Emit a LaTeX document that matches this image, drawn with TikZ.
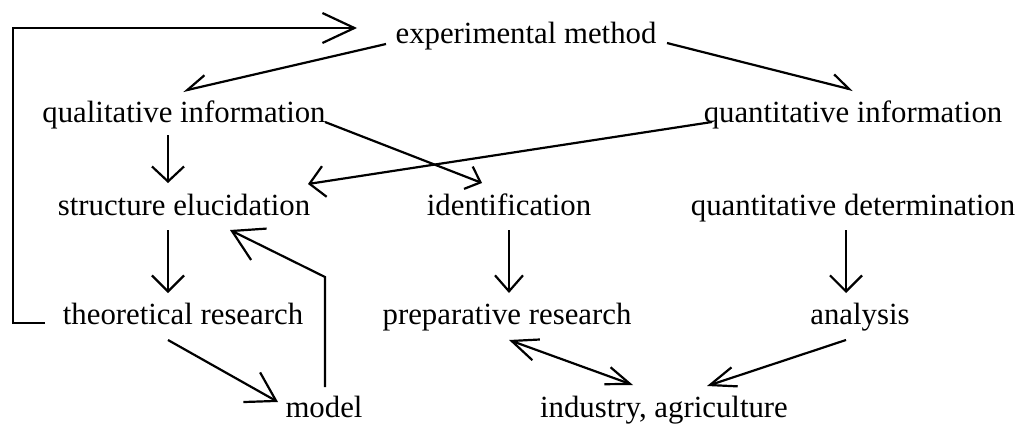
\documentclass[tikz,border=0pt]{standalone}
\usepackage{fontspec}
\setmainfont{Liberation Serif}
\usetikzlibrary{arrows.meta,calc}
\begin{document}
\begin{tikzpicture}[x=1pt,y=-1pt,
  lbl/.style={font=\fontsize{30.8pt}{36pt}\selectfont, inner sep=0pt, anchor=base},
  ln/.style={line width=2.2pt, line join=miter},
]
\useasboundingbox (0,0) rectangle (1020,423);
% nodes
\node[lbl] (exp)    at (526,43)  {experimental method};
\node[lbl] (qual)   at (184,122) {qualitative information};
\node[lbl] (quant)  at (853,122) {quantitative information};
\node[lbl] (struct) at (184,215) {structure elucidation};
\node[lbl] (ident)  at (509,215) {identification};
\node[lbl] (qdet)   at (853,215) {quantitative determination};
\node[lbl] (theo)   at (183,324) {theoretical research};
\node[lbl] (prep)   at (507,324) {preparative research};
\node[lbl] (anal)   at (860,324) {analysis};
\node[lbl] (model)  at (324,417) {model};
\node[lbl] (ind)    at (664,417) {industry, agriculture};
% connectors
\draw[ln,-{Straight Barb[length=32pt,width=30pt]}]
  ($(theo.base)+(-138,-1)$) -- ++(-32,0) |- ($(exp.base)+(-169,-15)$);
\draw[ln,-{Straight Barb[length=20pt,width=21pt,harpoon,swap]}]
  ($(exp.base)+(-140,1)$) -- ($(qual.base)+(-1,-31)$);
\draw[ln,-{Straight Barb[length=18pt,width=21pt,harpoon]}]
  ($(exp.base)+(141,0)$) -- ($(quant.base)+(0,-32)$);
\draw[ln,-{Straight Barb[length=13pt,width=24pt]}]
  ($(qual.base)+(141,0)$) -- ($(ident.base)+(-27,-32)$);
\draw[ln,-{Straight Barb[length=15pt,width=31pt]}]
  ($(quant.base)+(-141,0)$) -- ($(struct.base)+(124,-31)$);
\draw[ln,-{Straight Barb[length=15pt,width=32pt]}]
  ($(qual.base)+(-16,13)$) -- ($(struct.base)+(-16,-32)$);
\draw[ln,-{Straight Barb[length=16pt,width=32pt]}]
  ($(struct.base)+(-16,15)$) -- ($(theo.base)+(-15,-31)$);
\draw[ln,-{Straight Barb[length=28pt,width=34pt]}]
  ($(theo.base)+(-15,16)$) -- ($(model.base)+(-46,-15)$);
\draw[ln,-{Straight Barb[length=30pt,width=35pt]}]
  ($(model.base)+(1,-30)$) -- ++(0,-110) -- ($(struct.base)+(46,15)$);
\draw[ln,-{Straight Barb[length=16pt,width=28pt]}]
  ($(ident.base)+(0,15)$) -- ($(prep.base)+(2,-31)$);
\draw[ln,-{Straight Barb[length=16pt,width=32pt]}]
  ($(qdet.base)+(-7,15)$) -- ($(anal.base)+(-14,-31)$);
\draw[ln,{Straight Barb[length=26pt,width=22pt]}-{Straight Barb[length=24pt,width=18pt]}]
  ($(prep.base)+(2,16)$) -- ($(ind.base)+(-31,-32)$);
\draw[ln,-{Straight Barb[length=26pt,width=20pt]}]
  ($(anal.base)+(-14,16)$) -- ($(ind.base)+(43,-31)$);
\end{tikzpicture}
\end{document}
